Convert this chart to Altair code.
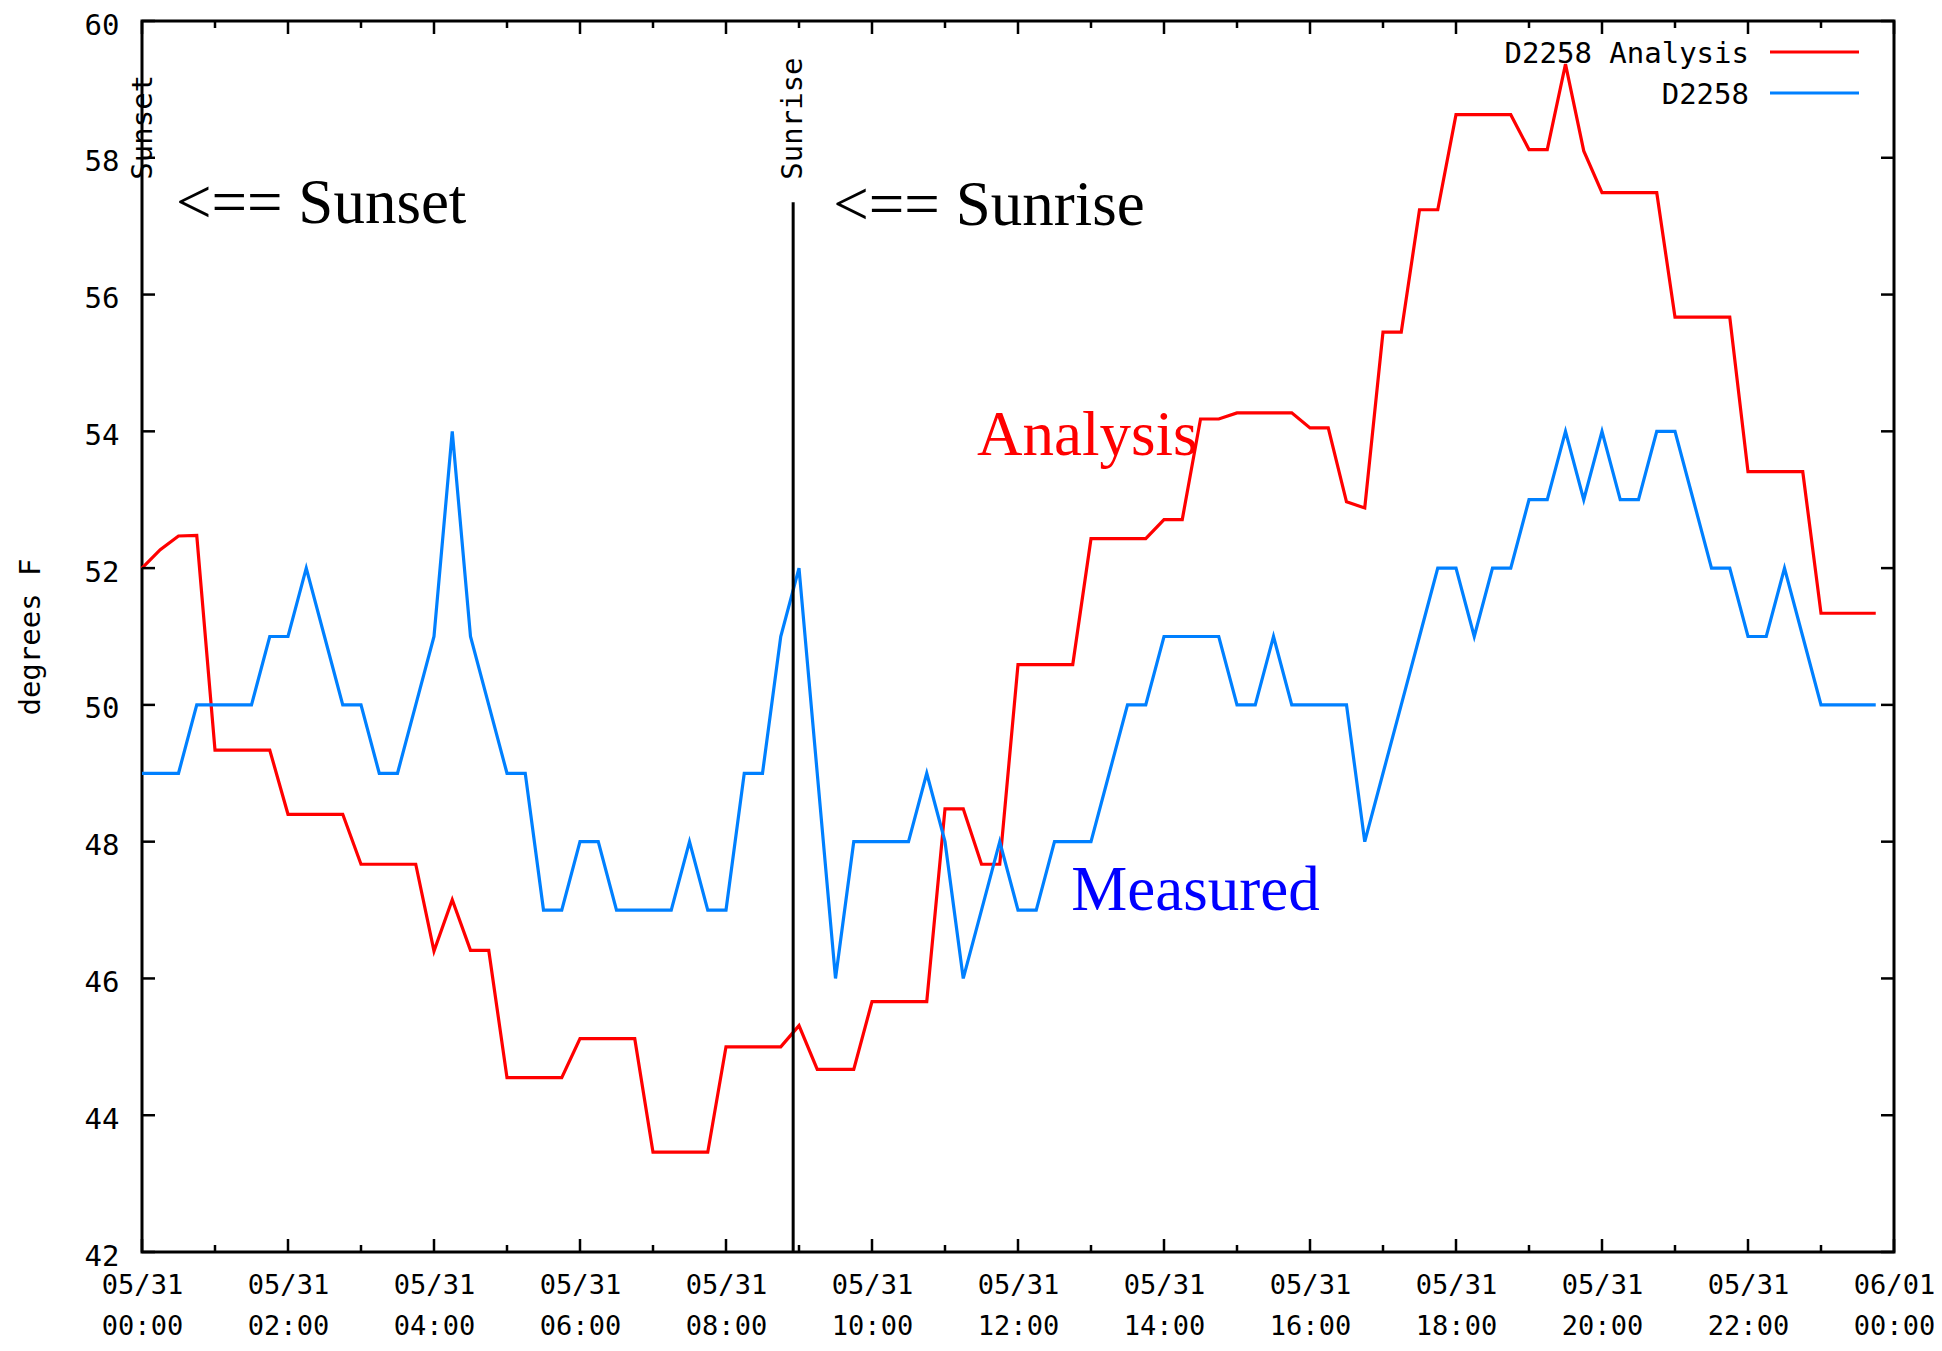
import altair as alt
import pandas as pd

# ---------------- data (15-minute samples, 05/31 00:00 .. 23:45) ----------------
series_names = ["D2258 Analysis", "D2258"]
series_colors = ["#ff0000", "#0080ff"]

analysis = [52.0, 52.27, 52.47, 52.48, 49.34, 49.34, 49.34, 49.34, 48.4, 48.4,
            48.4, 48.4, 47.67, 47.67, 47.67, 47.67, 46.4, 47.15, 46.41, 46.41,
            44.55, 44.55, 44.55, 44.55, 45.12, 45.12, 45.12, 45.12, 43.46, 43.46,
            43.46, 43.46, 45.0, 45.0, 45.0, 45.0, 45.31, 44.67, 44.67, 44.67,
            45.66, 45.66, 45.66, 45.66, 48.48, 48.48, 47.67, 47.67, 50.59, 50.59,
            50.59, 50.59, 52.43, 52.43, 52.43, 52.43, 52.71, 52.71, 54.18, 54.18,
            54.27, 54.27, 54.27, 54.27, 54.05, 54.05, 52.97, 52.88, 55.45, 55.45,
            57.24, 57.24, 58.63, 58.63, 58.63, 58.63, 58.12, 58.12, 59.37, 58.1,
            57.49, 57.49, 57.49, 57.49, 55.67, 55.67, 55.67, 55.67, 53.41, 53.41,
            53.41, 53.41, 51.34, 51.34, 51.34, 51.34]

measured = [49, 49, 49, 50, 50, 50, 50, 51, 51, 52,
            51, 50, 50, 49, 49, 50, 51, 54, 51, 50,
            49, 49, 47, 47, 48, 48, 47, 47, 47, 47,
            48, 47, 47, 49, 49, 51, 52, 49, 46, 48,
            48, 48, 48, 49, 48, 46, 47, 48, 47, 47,
            48, 48, 48, 49, 50, 50, 51, 51, 51, 51,
            50, 50, 51, 50, 50, 50, 50, 48, 49, 50,
            51, 52, 52, 51, 52, 52, 53, 53, 54, 53,
            54, 53, 53, 54, 54, 53, 52, 52, 51, 51,
            52, 51, 50, 50, 50, 50]

sample_hours = [i * 0.25 for i in range(len(measured))]

y_ticks = [42, 44, 46, 48, 50, 52, 54, 56, 58, 60]
x_major = [0, 2, 4, 6, 8, 10, 12, 14, 16, 18, 20, 22, 24]
x_minor = [1, 3, 5, 7, 9, 11, 13, 15, 17, 19, 21, 23]
x_label_date = ["05/31"] * 12 + ["06/01"]
x_label_time = ["00:00", "02:00", "04:00", "06:00", "08:00", "10:00", "12:00",
                "14:00", "16:00", "18:00", "20:00", "22:00", "00:00"]

sunrise_hour = 8.92
sunset_hour = 0.02

notes_text = ["<== Sunset", "<== Sunrise", "Analysis", "Measured"]
notes_hour = [0.466, 9.47, 11.44, 12.73]
notes_temp = [57.04, 57.02, 53.65, 47.0]
notes_color = ["#000000", "#000000", "#ff0000", "#0000ff"]

# ---------------- layout ----------------
W, H = 1752, 1231
MONO = "DejaVu Sans Mono"
SERIF = "Liberation Serif"

xscale = alt.Scale(domain=[0, 24], nice=False, zero=False)
yscale = alt.Scale(domain=[42, 60], nice=False, zero=False)


def js_list(items):
    return "[" + ",".join("'" + s + "'" for s in items) + "]"


label_expr = "[{d}[round(datum.value/2)], {t}[round(datum.value/2)]]".format(
    d=js_list(x_label_date), t=js_list(x_label_time))

x_axis = alt.Axis(values=x_major, labelExpr=label_expr, ticks=False, domain=False,
                  grid=False, labelFont=MONO, labelFontSize=27, labelColor="black",
                  labelPadding=20, labelBaseline="top", labelLineHeight=41,
                  labelOverlap=False, labelFlush=False, title=None)
y_axis = alt.Axis(values=y_ticks, ticks=False, domain=False, grid=False,
                  labelFont=MONO, labelFontSize=29, labelColor="black",
                  labelPadding=23, labelOffset=4, labelFlush=False,
                  title="degrees F", titleFont=MONO,
                  titleFontSize=29, titleFontWeight="normal", titleColor="black",
                  titleAngle=270, titleX=-112, titleY=H / 2, titleAlign="center",
                  titleBaseline="middle")

X = alt.X("hour:Q", scale=xscale, axis=x_axis)
Y = alt.Y("temp:Q", scale=yscale, axis=y_axis)

df_a = pd.DataFrame({"hour": sample_hours, "temp": analysis, "series": series_names[0]})
df_m = pd.DataFrame({"hour": sample_hours, "temp": measured, "series": series_names[1]})

line_a = alt.Chart(df_a).mark_line(color=series_colors[0], strokeWidth=3.2).encode(x=X, y=Y)
line_m = alt.Chart(df_m).mark_line(color=series_colors[1], strokeWidth=3.2).encode(x=X, y=Y)

# sunrise vertical line
df_sr = pd.DataFrame({"hour": [sunrise_hour], "temp": [57.35], "temp2": [42]})
sunrise_rule = alt.Chart(df_sr).mark_rule(color="black", strokeWidth=3).encode(
    x=X, y=Y, y2="temp2:Q")

# rotated event labels
df_ev = pd.DataFrame({"hour": [sunset_hour, sunrise_hour], "temp": [57.68, 57.68],
                      "label": ["Sunset", "Sunrise"]})
event_text = alt.Chart(df_ev).mark_text(angle=270, align="left", baseline="middle",
                                         font=MONO, fontSize=29, color="black").encode(
    x=X, y=Y, text="label:N")

# annotations
df_notes = pd.DataFrame({"hour": notes_hour, "temp": notes_temp,
                         "label": notes_text, "color": notes_color})
notes = alt.Chart(df_notes).mark_text(align="left", baseline="alphabetic",
                                      font=SERIF, fontSize=63).encode(
    x=X, y=Y, text="label:N",
    color=alt.Color("color:N", scale=None, legend=None))

# inward ticks (mirrored on all four sides)
df_yt = pd.DataFrame({"temp": y_ticks})
df_xM = pd.DataFrame({"hour": x_major})
df_xm = pd.DataFrame({"hour": x_minor})
tick_layers = [
    alt.Chart(df_yt).mark_rule(color="black", strokeWidth=2.5).encode(
        y=Y, x=alt.value(0), x2=alt.value(13)),
    alt.Chart(df_yt).mark_rule(color="black", strokeWidth=2.5).encode(
        y=Y, x=alt.value(W - 13), x2=alt.value(W)),
    alt.Chart(df_xM).mark_rule(color="black", strokeWidth=2.5).encode(
        x=X, y=alt.value(H), y2=alt.value(H - 13)),
    alt.Chart(df_xM).mark_rule(color="black", strokeWidth=2.5).encode(
        x=X, y=alt.value(0), y2=alt.value(13)),
    alt.Chart(df_xm).mark_rule(color="black", strokeWidth=2.5).encode(
        x=X, y=alt.value(H), y2=alt.value(H - 7)),
    alt.Chart(df_xm).mark_rule(color="black", strokeWidth=2.5).encode(
        x=X, y=alt.value(0), y2=alt.value(7)),
]

# legend (top right, text then line sample)
df_leg = pd.DataFrame({"name": series_names})
legend_layers = []
for k, (name, col) in enumerate(zip(series_names, series_colors)):
    row_y = 33 + 41 * k
    legend_layers.append(
        alt.Chart(df_leg).transform_filter(alt.datum.name == name).mark_text(
            align="right", baseline="middle", font=MONO, fontSize=29, color="black").encode(
            x=alt.value(1607), y=alt.value(row_y), text="name:N"))
    legend_layers.append(
        alt.Chart(df_leg).transform_filter(alt.datum.name == name).mark_rule(
            color=col, strokeWidth=3.2).encode(
            x=alt.value(1628), x2=alt.value(1717), y=alt.value(row_y - 2)))

chart = alt.layer(
    line_a, line_m, sunrise_rule, event_text, notes, *tick_layers, *legend_layers
).properties(
    width=W, height=H,
    autosize=alt.AutoSizeParams(type="none"),
    padding={"left": 134, "top": 13, "right": 40, "bottom": 91},
    background="white",
).configure_view(stroke="black", strokeWidth=3)

chart.save("out.html", embed_options={"renderer": "svg", "actions": False})
